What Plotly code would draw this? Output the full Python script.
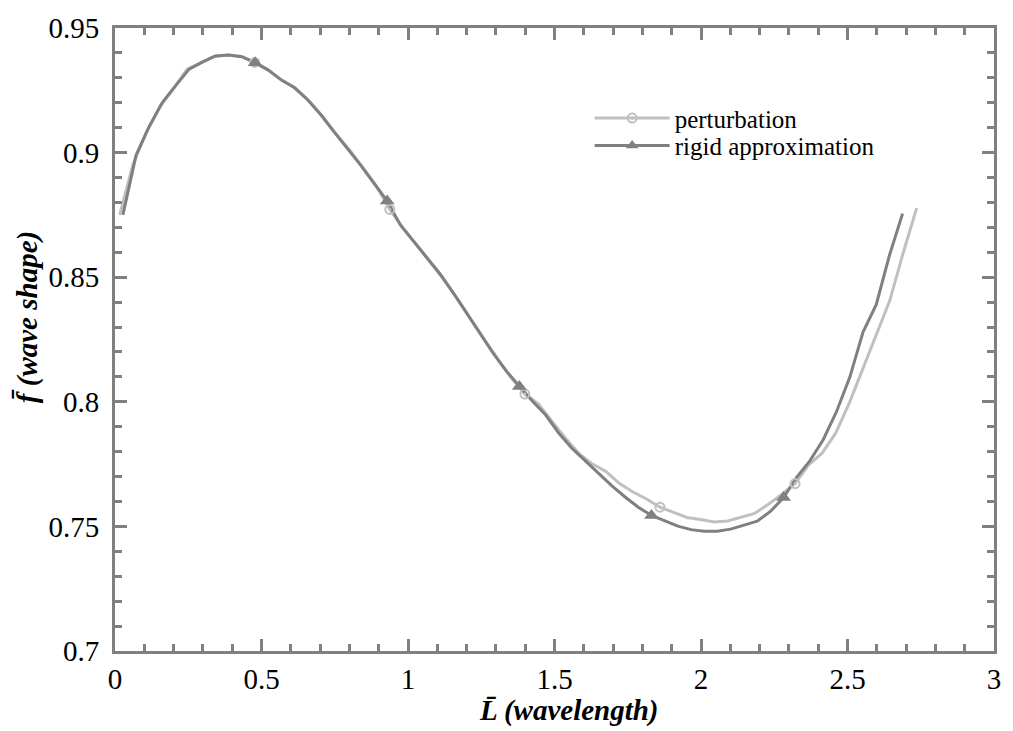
import plotly.graph_objects as go

# ---------------- data ----------------
L_rigid = [0.027, 0.072, 0.117, 0.162, 0.207, 0.253, 0.298, 0.343, 0.388, 0.433,
           0.478, 0.523, 0.568, 0.613, 0.658, 0.704, 0.749, 0.794, 0.839, 0.884,
           0.929, 0.974, 1.019, 1.064, 1.109, 1.155, 1.200, 1.245, 1.290, 1.335,
           1.380, 1.425, 1.470, 1.515, 1.560, 1.606, 1.651, 1.696, 1.741, 1.786,
           1.831, 1.876, 1.921, 1.966, 2.011, 2.056, 2.101, 2.147, 2.192, 2.237,
           2.282, 2.327, 2.372, 2.417, 2.462, 2.508, 2.553, 2.598, 2.643, 2.688]
f_rigid = [0.8750, 0.8990, 0.9105, 0.9202, 0.9269, 0.9335, 0.9363, 0.9388, 0.9392, 0.9385,
           0.9361, 0.9331, 0.9291, 0.9260, 0.9211, 0.9150, 0.9081, 0.9017, 0.8949, 0.8877,
           0.8806, 0.8710, 0.8645, 0.8582, 0.8514, 0.8436, 0.8355, 0.8274, 0.8196, 0.8124,
           0.8061, 0.8002, 0.7947, 0.7874, 0.7813, 0.7762, 0.7716, 0.7663, 0.7618, 0.7577,
           0.7544, 0.7523, 0.7501, 0.7487, 0.7481, 0.7481, 0.7489, 0.7505, 0.7521, 0.7560,
           0.7616, 0.7698, 0.7764, 0.7848, 0.7959, 0.8099, 0.8280, 0.8390, 0.8587, 0.8755]

L_pert = [0.016, 0.062, 0.108, 0.154, 0.200, 0.246, 0.292, 0.338, 0.384, 0.431,
          0.477, 0.523, 0.569, 0.615, 0.661, 0.707, 0.754, 0.800, 0.846, 0.892,
          0.938, 0.984, 1.030, 1.076, 1.122, 1.169, 1.215, 1.261, 1.307, 1.353,
          1.399, 1.445, 1.491, 1.537, 1.584, 1.630, 1.676, 1.722, 1.768, 1.814,
          1.860, 1.906, 1.952, 1.999, 2.045, 2.091, 2.137, 2.183, 2.229, 2.275,
          2.321, 2.367, 2.414, 2.460, 2.506, 2.552, 2.598, 2.644, 2.690, 2.736]
f_pert = [0.8750, 0.8955, 0.9085, 0.9186, 0.9257, 0.9335, 0.9360, 0.9386, 0.9392, 0.9386,
          0.9362, 0.9332, 0.9291, 0.9259, 0.9210, 0.9147, 0.9076, 0.9012, 0.8940, 0.8865,
          0.8772, 0.8695, 0.8628, 0.8560, 0.8490, 0.8413, 0.8330, 0.8250, 0.8170, 0.8095,
          0.8031, 0.7992, 0.7922, 0.7855, 0.7792, 0.7750, 0.7720, 0.7672, 0.7638, 0.7610,
          0.7577, 0.7556, 0.7536, 0.7528, 0.7518, 0.7522, 0.7536, 0.7552, 0.7588, 0.7628,
          0.7672, 0.7746, 0.7795, 0.7875, 0.7995, 0.8132, 0.8265, 0.8405, 0.8597, 0.8777]

marker_every = 10  # a marker on every 10th computed point

x_ticks = [0, 0.5, 1, 1.5, 2, 2.5, 3]
y_ticks = [0.7, 0.75, 0.8, 0.85, 0.9, 0.95]

# ---------------- styling ----------------
DARK = "#808080"
LIGHT = "#c0c0c0"
AXIS = "#808080"
FONT = "Liberation Serif"

mi_r = list(range(marker_every, len(L_rigid), marker_every))
mi_p = list(range(marker_every, len(L_pert), marker_every))

fig = go.Figure()

# lines
fig.add_trace(go.Scatter(x=L_pert, y=f_pert, mode="lines",
                         line=dict(color=LIGHT, width=3), showlegend=False,
                         hoverinfo="skip"))
fig.add_trace(go.Scatter(x=L_rigid, y=f_rigid, mode="lines",
                         line=dict(color=DARK, width=3), showlegend=False,
                         hoverinfo="skip"))
# markers
fig.add_trace(go.Scatter(x=[L_pert[i] for i in mi_p], y=[f_pert[i] for i in mi_p],
                         mode="markers",
                         marker=dict(symbol="circle-open-dot", size=9, color=LIGHT,
                                     line=dict(width=2, color=LIGHT)),
                         showlegend=False))
fig.add_trace(go.Scatter(x=[L_rigid[i] for i in mi_r], y=[f_rigid[i] for i in mi_r],
                         mode="markers",
                         marker=dict(symbol="triangle-up", size=13, color=DARK),
                         showlegend=False))
# legend entries (one legend box per entry so the spacing can match)
fig.add_trace(go.Scatter(x=[None], y=[None], mode="lines+markers", name="perturbation",
                         line=dict(color=LIGHT, width=3), legend="legend",
                         marker=dict(symbol="circle-open-dot", size=9, color=LIGHT,
                                     line=dict(width=2, color=LIGHT))))
fig.add_trace(go.Scatter(x=[None], y=[None], mode="lines+markers", name="rigid approximation",
                         line=dict(color=DARK, width=3), legend="legend2",
                         marker=dict(symbol="triangle-up", size=11, color=DARK)))

axis_common = dict(
    showline=True, linecolor=AXIS, linewidth=3, mirror="ticks",
    ticks="inside", ticklen=12, tickwidth=3, tickcolor=AXIS,
    showgrid=False, zeroline=False,
    tickfont=dict(family=FONT, size=29, color="black"),
)

fig.update_xaxes(range=[0, 3], tickvals=x_ticks,
                 minor=dict(ticks="inside", ticklen=7, tickwidth=3, tickcolor=AXIS, dtick=0.1,
                            tick0=0, showgrid=False),
                 **axis_common)
fig.update_yaxes(range=[0.7, 0.95], tickvals=y_ticks, ticklabelstandoff=7,
                 minor=dict(ticks="inside", ticklen=7, tickwidth=3, tickcolor=AXIS, dtick=0.01,
                            tick0=0.7, showgrid=False),
                 **axis_common)

legend_common = dict(xanchor="left", yanchor="middle", bgcolor="rgba(0,0,0,0)",
                     font=dict(family=FONT, size=25, color="black"), itemwidth=75)

fig.update_layout(
    width=1013, height=731,
    margin=dict(l=115, r=15, t=22, b=80),
    paper_bgcolor="white", plot_bgcolor="white",
    font=dict(family=FONT, color="black"),
    legend=dict(x=0.54, y=0.855, **legend_common),
    legend2=dict(x=0.54, y=0.811, **legend_common),
    annotations=[
        dict(text="<b><i>L\u0304 (wavelength)</i></b>", xref="paper", yref="paper",
             x=0.516, y=-0.095, xanchor="center", yanchor="middle", showarrow=False,
             borderpad=0,
             font=dict(family=FONT, size=29, color="black")),
        dict(text="<b><i>f\u0304 (wave shape)</i></b>", xref="paper", yref="paper",
             x=-0.1, y=0.536, xanchor="center", yanchor="middle", showarrow=False,
             borderpad=0,
             textangle=-90, font=dict(family=FONT, size=29, color="black")),
    ],
)

# remove the browser's default 8px page margin so the figure fills the window exactly
fig.write_html("out.html", config={"displayModeBar": False},
               post_script="document.body.style.margin='0px';")
